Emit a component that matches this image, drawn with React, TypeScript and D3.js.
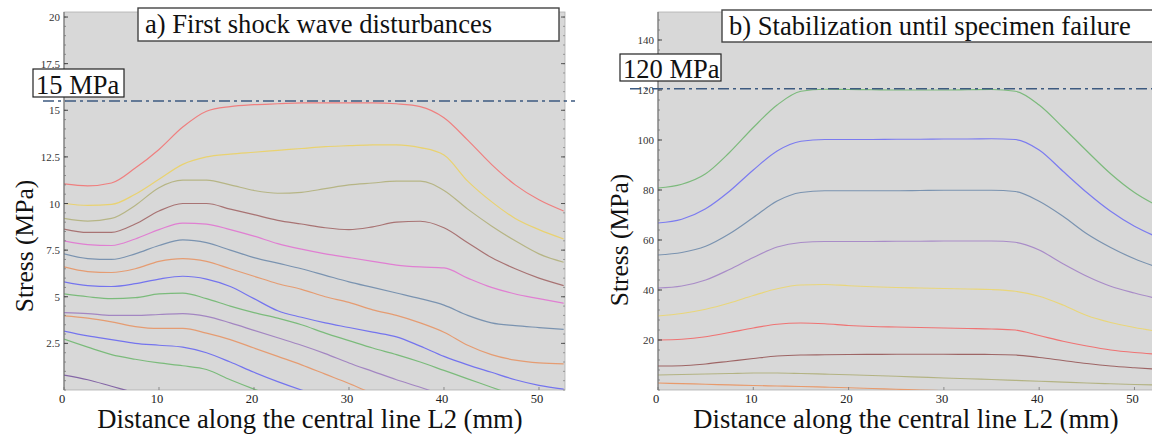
import React from "react";
import * as d3 from "d3";

// distance samples (mm)
const distA = [0, 2.5, 5, 7.5, 10, 12.5, 15, 17.5, 20, 22.5, 25, 27.5, 30, 32.5, 35, 37.5, 40, 42.5, 45, 47.5, 50, 52.6];
const distB = [0, 2.5, 5, 7.5, 10, 12.5, 15, 17.5, 20, 22.5, 25, 27.5, 30, 32.5, 35, 37.5, 40, 42.5, 45, 47.5, 50, 52.5];

// a) stress (MPa), top curve first
const aRed = [11.05, 10.95, 11.1, 11.9, 12.9, 14.1, 14.95, 15.2, 15.3, 15.35, 15.4, 15.4, 15.4, 15.4, 15.35, 15.2, 14.6, 13.4, 12.1, 11.0, 10.2, 9.6];
const aYellow = [10.0, 9.9, 9.95, 10.5, 11.3, 12.1, 12.5, 12.65, 12.75, 12.85, 12.95, 13.05, 13.1, 13.15, 13.15, 13.0, 12.6, 11.2, 10.1, 9.2, 8.6, 8.1];
const aOlive = [9.2, 9.06, 9.2, 9.9, 10.85, 11.25, 11.25, 11.0, 10.7, 10.55, 10.6, 10.8, 11.0, 11.1, 11.2, 11.2, 10.7, 9.7, 8.8, 8.0, 7.3, 6.85];
const aBrown = [8.63, 8.45, 8.45, 8.9, 9.6, 10.0, 10.0, 9.7, 9.4, 9.1, 8.9, 8.7, 8.6, 8.75, 9.0, 9.05, 8.7, 7.9, 7.1, 6.5, 6.0, 5.6];
const aPink = [8.0, 7.8, 7.75, 8.1, 8.6, 8.95, 8.9, 8.6, 8.25, 7.85, 7.55, 7.3, 7.1, 6.9, 6.7, 6.6, 6.55, 6.0, 5.5, 5.15, 4.9, 4.65];
const aSteel = [7.3, 7.05, 7.0, 7.3, 7.75, 8.05, 7.9, 7.5, 7.1, 6.8, 6.5, 6.15, 5.8, 5.5, 5.2, 4.9, 4.55, 4.0, 3.6, 3.45, 3.35, 3.25];
const aOrange = [6.6, 6.35, 6.3, 6.5, 6.9, 7.05, 6.9, 6.5, 6.1, 5.7, 5.4, 5.0, 4.7, 4.3, 4.0, 3.6, 3.1, 2.4, 1.9, 1.6, 1.45, 1.4];
const aBlue = [5.8, 5.6, 5.55, 5.7, 5.95, 6.1, 5.95, 5.55, 4.9, 4.25, 3.9, 3.6, 3.35, 3.1, 2.85, 2.35, 1.8, 1.35, 0.95, 0.55, 0.25, 0.05];
const aGreen = [5.15, 5.0, 4.9, 4.95, 5.15, 5.2, 4.9, 4.5, 4.15, 3.85, 3.5, 3.05, 2.65, 2.25, 1.9, 1.5, 1.05, 0.6, 0.15, -0.3, null, null];
const aPurple = [4.15, 4.1, 4.0, 4.0, 4.05, 4.1, 3.95, 3.6, 3.2, 2.8, 2.4, 1.95, 1.45, 1.0, 0.55, 0.15, -0.3, null, null, null, null, null];
const aOrange2 = [3.97, 3.85, 3.65, 3.4, 3.3, 3.3, 3.05, 2.7, 2.25, 1.8, 1.35, 0.85, 0.35, -0.2, null, null, null, null, null, null, null, null];
const aBlue2 = [3.16, 2.9, 2.7, 2.5, 2.4, 2.3, 2.0, 1.5, 0.95, 0.45, 0.0, -0.4, null, null, null, null, null, null, null, null, null, null];
const aGreen2 = [2.73, 2.3, 1.9, 1.65, 1.45, 1.3, 1.1, 0.55, 0.05, -0.4, null, null, null, null, null, null, null, null, null, null, null, null];
const aDark = [0.8, 0.55, 0.2, -0.15, null, null, null, null, null, null, null, null, null, null, null, null, null, null, null, null, null, null];

// b) stress (MPa)
const bGreen = [80.8, 82.3, 86.5, 95, 105, 114, 119.5, 120.3, 120.2, 120.1, 120, 120, 120, 120.1, 120.2, 119.5, 114, 105, 95.6, 86.5, 79, 73.5];
const bBlue = [66.8, 68.3, 72.5, 79.5, 88, 95.6, 99.5, 100.2, 100.2, 100.2, 100.3, 100.3, 100.4, 100.4, 100.5, 100.2, 96, 87.5, 79, 71.5, 65.5, 61];
const bSteel = [54, 55, 57.5, 62.5, 69, 75.6, 79, 79.7, 79.7, 79.7, 79.7, 79.8, 79.9, 79.9, 79.9, 79.4, 75.5, 69.5, 62.5, 57, 52.5, 49];
const bPurple = [40.8, 41.6, 44, 48.2, 53, 57.2, 59, 59.4, 59.4, 59.4, 59.5, 59.5, 59.6, 59.6, 59.6, 59.1, 56, 50.5, 45.5, 41.5, 38.8, 36.5];
const bYellow = [29.6, 30.6, 32.3, 34.8, 37.8, 40.5, 42, 42.2, 41.7, 41.3, 41, 40.8, 40.6, 40.4, 40.2, 39.5, 37.5, 34, 29.8, 27, 25, 23.4];
const bRed = [20, 20.3, 21.3, 23, 24.8, 26.3, 26.8, 26.5, 25.8, 25.4, 25.2, 25.0, 24.8, 24.6, 24.4, 24.0, 21.8, 19.5, 17.6, 16, 15, 14.3];
const bBrown = [9.6, 9.7, 10.4, 11.5, 12.6, 13.6, 14, 14.1, 14.2, 14.25, 14.3, 14.3, 14.3, 14.25, 14.2, 14.0, 13.0, 11.8, 10.6, 9.6, 8.9, 8.3];
const bOlive = [6, 6.2, 6.4, 6.6, 6.8, 6.8, 6.6, 6.35, 6.1, 5.8, 5.5, 5.15, 4.8, 4.5, 4.2, 3.85, 3.5, 3.15, 2.8, 2.5, 2.2, 1.95];
const bOrange = [2.8, 2.55, 2.3, 2.05, 1.8, 1.6, 1.4, 1.15, 0.9, 0.6, 0.3, 0.0, -0.3, null, null, null, null, null, null, null, null, null];

const aSeries = [aRed, aYellow, aOlive, aBrown, aPink, aSteel, aOrange, aBlue, aGreen, aPurple, aOrange2, aBlue2, aGreen2, aDark];
const aColors = ["#ef7f7f", "#e9d270", "#b6b585", "#a87373", "#e07fd2", "#7a93b0", "#e59c72", "#7474ee", "#7bbb7b", "#a386c2", "#e59c72", "#7474ee", "#7bbb7b", "#8466a6"];
const bSeries = [bGreen, bBlue, bSteel, bPurple, bYellow, bRed, bBrown, bOlive, bOrange];
const bColors = ["#7cba7c", "#7b7bf0", "#7a93b0", "#a98cc8", "#e9d67a", "#ef7373", "#9e6565", "#b3b383", "#e89a6c"];

const aYTicks = [2.5, 5, 7.5, 10, 12.5, 15, 17.5, 20];
const bYTicks = [20, 40, 60, 80, 100, 120, 140];
const xTicks = [0, 10, 20, 30, 40, 50];

const FONT = "'Liberation Serif', 'Times New Roman', serif";

function Panel({ id, x0, x1, xMax, yMax, yTicks, yMinor, dist, series, colors, threshold, label, labelBox, title, titleBox, xLabelX, yLabelX, yLabelY }) {
  const top = 12, bottom = 390;
  const x = d3.scaleLinear().domain([0, xMax]).range([x0, x1]);
  const y = d3.scaleLinear().domain([0, yMax]).range([bottom, top]);
  const line = d3
    .line()
    .defined((d) => d[1] != null)
    .x((d) => x(d[0]))
    .y((d) => y(d[1]))
    .curve(d3.curveMonotoneX);
  const minor = d3.range(0, yMax, yMinor);

  return (
    <g>
      <defs>
        <clipPath id={"clip-" + id}>
          <rect x={x0} y={top} width={x1 - x0} height={bottom - top} />
        </clipPath>
      </defs>
      <rect x={x0} y={top} width={x1 - x0} height={bottom - top} fill="#d8d8d8" stroke="#b0b0b0" strokeWidth={0.8} />
      <g clipPath={"url(#clip-" + id + ")"}>
        {series.map((s, i) => (
          <path
            key={i}
            d={line(dist.map((d, j) => [d, s[j]]))}
            fill="none"
            stroke={colors[i]}
            strokeWidth={1.2}
          />
        ))}
      </g>
      {/* axes */}
      <line x1={x0} x2={x0} y1={top} y2={bottom} stroke="#666" strokeWidth={1} />
      {minor.map((v, i) => (
        <g key={i}>
          <line x1={x0} x2={x0 + 2} y1={y(v)} y2={y(v)} stroke="#777" strokeWidth={0.8} />
          <line x1={x1} x2={x1 - 2} y1={y(v)} y2={y(v)} stroke="#888" strokeWidth={0.8} />
        </g>
      ))}
      {yTicks.map((v) => (
        <g key={v}>
          <line x1={x0} x2={x0 + 4} y1={y(v)} y2={y(v)} stroke="#444" strokeWidth={1} />
          <line x1={x1} x2={x1 - 4} y1={y(v)} y2={y(v)} stroke="#555" strokeWidth={1} />
          <text x={x0 - 4} y={y(v) + 4} textAnchor="end" fontSize={11} fontFamily={FONT} fill="#333">
            {v}
          </text>
        </g>
      ))}
      {xTicks.map((v) => (
        <g key={v}>
          <line x1={x(v)} x2={x(v)} y1={bottom} y2={bottom - 3} stroke="#777" strokeWidth={0.8} />
          <text x={x(v) - 2} y={403} textAnchor="middle" fontSize={12.5} fontFamily={FONT} fill="#222">
            {v}
          </text>
        </g>
      ))}
      {/* threshold */}
      <line
        x1={labelBox.x + 10}
        x2={x1 + 10}
        y1={y(threshold)}
        y2={y(threshold)}
        stroke="#3d5a80"
        strokeWidth={1.6}
        strokeDasharray="11,4,3,4"
      />
      <rect x={labelBox.x} y={labelBox.y} width={labelBox.w} height={labelBox.h} fill="#fff" stroke="#222" strokeWidth={1.2} />
      <text x={labelBox.x + 3} y={labelBox.y + labelBox.h - 3} fontSize={26.5} fontFamily={FONT} fill="#111">
        {label}
      </text>
      <rect x={titleBox.x} y={titleBox.y} width={titleBox.w} height={titleBox.h} fill="#fff" stroke="#444" strokeWidth={1.4} />
      <text x={titleBox.x + 7} y={titleBox.y + 25} fontSize={26.6} fontFamily={FONT} fill="#111">
        {title}
      </text>
      {/* axis titles */}
      <text x={xLabelX} y={428} textAnchor="middle" fontSize={26.6} fontFamily={FONT} fill="#111">
        Distance along the central line L2 (mm)
      </text>
      <text
        transform={`translate(${yLabelX},${yLabelY}) rotate(-90)`}
        textAnchor="middle"
        fontSize={25.5}
        fontFamily={FONT}
        fill="#111"
      >
        Stress (MPa)
      </text>
    </g>
  );
}

export default function App() {
  return (
    <svg width={1152} height={436} style={{ position: "absolute", left: 0, top: 0, background: "#fff" }}>
      <Panel
        id="a"
        x0={64}
        x1={565}
        xMax={52.74}
        yMax={20.27}
        yTicks={aYTicks}
        yMinor={0.5}
        dist={distA}
        series={aSeries}
        colors={aColors}
        threshold={15.5}
        label="15 MPa"
        labelBox={{ x: 33, y: 69, w: 91, h: 28 }}
        title="a) First shock wave disturbances"
        titleBox={{ x: 138, y: 8, w: 421, h: 33 }}
        xLabelX={310}
        yLabelX={33}
        yLabelY={246}
      />
      <Panel
        id="b"
        x0={658}
        x1={1156}
        xMax={52.26}
        yMax={151.2}
        yTicks={bYTicks}
        yMinor={4}
        dist={distB}
        series={bSeries}
        colors={bColors}
        threshold={120.5}
        label="120 MPa"
        labelBox={{ x: 620, y: 54, w: 101, h: 27 }}
        title="b) Stabilization until specimen failure"
        titleBox={{ x: 722, y: 10, w: 440, h: 32 }}
        xLabelX={906}
        yLabelX={628}
        yLabelY={240}
      />
    </svg>
  );
}
